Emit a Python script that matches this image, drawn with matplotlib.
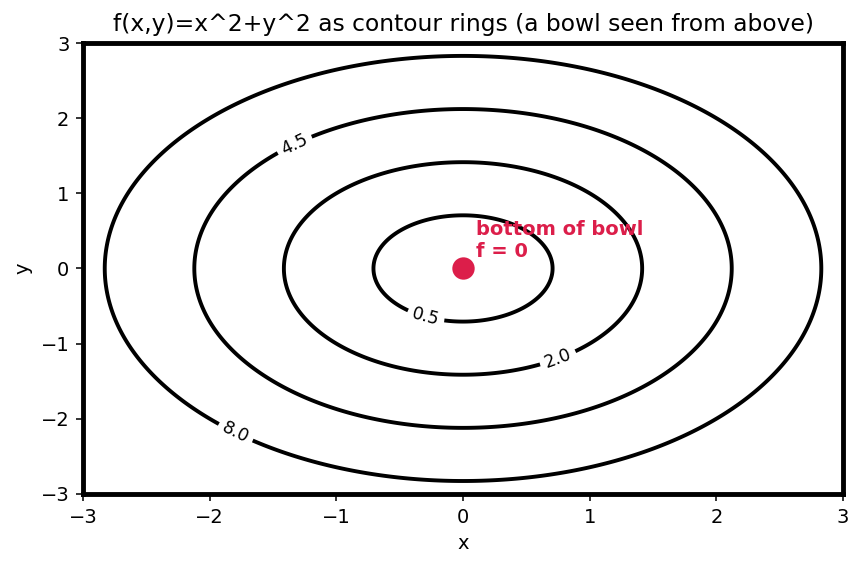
import numpy as np
import matplotlib
matplotlib.use('Agg')
import matplotlib.pyplot as plt

levels=[0.5,2.0,4.5,8.0]#contour values of f
label_pos=[(-0.3,-0.68),(0.75,-1.2),(-1.35,1.72),(-1.8,-2.2)]#where the ring labels sit
x=np.linspace(-3,3,400)
y=np.linspace(-3,3,400)
X,Y=np.meshgrid(x,y)
Z=X**2+Y**2

fig,ax=plt.subplots(figsize=(862/140,569/140),dpi=140)
fig.subplots_adjust(left=0.0963,right=0.978,top=0.9244,bottom=0.132)
cs=ax.contour(X,Y,Z,levels=levels,colors='black',linewidths=2)
ax.clabel(cs,fmt='%.1f',fontsize=9,manual=label_pos,inline=True)
ax.plot([0],[0],'o',color='#dc1e4a',ms=10.5)
ax.text(0.1,0.15,'bottom of bowl\nf = 0',color='#dc1e4a',fontweight='bold',fontsize=10)
ax.set_xlim(-3,3)
ax.set_ylim(-3,3)
ax.set_xlabel('x')
ax.set_ylabel('y')
ax.set_title('f(x,y)=x^2+y^2 as contour rings (a bowl seen from above)')
for s in ax.spines.values():
    s.set_linewidth(2.5)
fig.savefig('out.png',dpi=140)
